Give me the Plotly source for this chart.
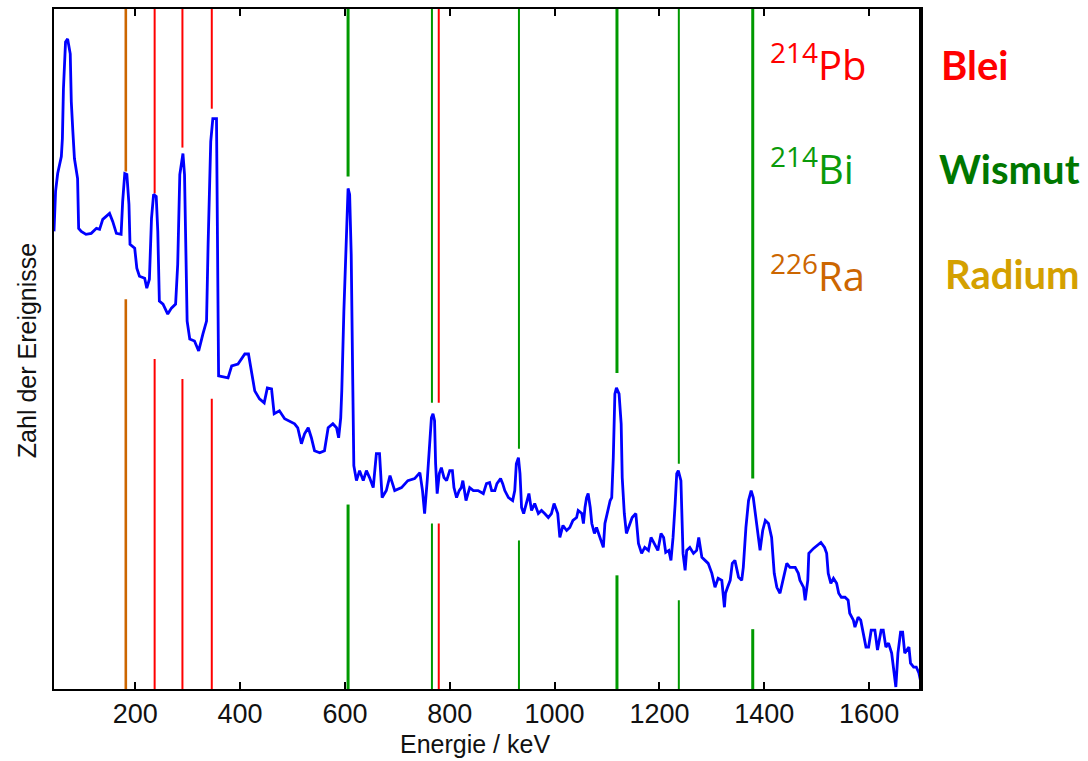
import plotly.graph_objects as go

# ---------------- data ----------------
energy_keV = [45, 48, 52, 59, 61, 63, 67, 71, 76, 78, 81, 84, 90, 92, 97, 106, 116, 126, 132, 138,
              151, 157, 164, 173, 176, 180, 184, 188, 190, 199, 203, 208, 218, 222, 227, 231, 235, 240, 243, 246,
              253, 262, 269, 277, 281, 285, 291, 294, 299, 304, 313, 321, 329, 336, 339, 344, 348, 355, 357, 359,
              377, 384, 396, 409, 416, 423, 428, 437, 446, 452, 460, 465, 475, 485, 504, 510, 517, 523, 530, 536,
              542, 552, 561, 568, 577, 584, 588, 592, 594, 598, 603, 606, 609, 612, 615, 617, 622, 628, 635, 641,
              647, 654, 660, 666, 671, 679, 686, 695, 708, 720, 733, 743, 748, 752, 757, 761, 765, 768, 771, 773,
              776, 780, 784, 789, 794, 800, 805, 808, 813, 818, 822, 825, 831, 838, 845, 854, 864, 870, 876, 880,
              886, 890, 897, 901, 905, 912, 920, 924, 927, 931, 934, 937, 941, 946, 951, 956, 962, 969, 975, 981,
              988, 994, 999, 1006, 1010, 1016, 1023, 1029, 1035, 1042, 1045, 1052, 1055, 1058, 1061, 1064, 1068, 1071, 1076, 1080,
              1087, 1093, 1096, 1102, 1106, 1109, 1112, 1115, 1118, 1123, 1127, 1129, 1133, 1137, 1144, 1148, 1155, 1160, 1166, 1172,
              1179, 1184, 1190, 1197, 1203, 1208, 1212, 1218, 1222, 1226, 1230, 1233, 1236, 1241, 1245, 1249, 1252, 1258, 1265, 1271,
              1275, 1281, 1287, 1293, 1300, 1306, 1312, 1319, 1324, 1326, 1330, 1335, 1339, 1344, 1351, 1357, 1360, 1365, 1370, 1375,
              1379, 1383, 1386, 1392, 1397, 1402, 1408, 1414, 1419, 1424, 1430, 1436, 1443, 1449, 1459, 1465, 1468, 1475, 1478, 1483,
              1485, 1494, 1502, 1508, 1515, 1519, 1522, 1527, 1532, 1538, 1542, 1547, 1554, 1560, 1563, 1570, 1573, 1579, 1584, 1589,
              1594, 1599, 1604, 1611, 1616, 1623, 1627, 1632, 1637, 1643, 1648, 1651, 1655, 1660, 1664, 1668, 1676, 1679, 1685, 1690,
              1695, 1699]
counts = [459, 499, 517, 534, 552, 602, 649, 652, 637, 589, 559, 532, 512, 462, 459, 456, 457, 462, 461, 471,
          477, 469, 457, 456, 489, 517, 516, 486, 446, 442, 422, 414, 412, 402, 411, 472, 496, 494, 459, 389,
          386, 376, 382, 386, 426, 516, 537, 516, 369, 351, 349, 339, 356, 369, 446, 549, 572, 572, 442, 314,
          312, 324, 326, 336, 336, 312, 299, 291, 287, 302, 301, 276, 279, 271, 266, 262, 246, 256, 262, 252,
          239, 237, 239, 262, 266, 262, 252, 272, 299, 379, 472, 502, 496, 436, 306, 224, 209, 219, 209, 219,
          212, 202, 236, 236, 192, 199, 214, 199, 202, 209, 211, 217, 199, 176, 209, 239, 272, 276, 269, 226,
          196, 216, 222, 212, 209, 219, 219, 202, 192, 199, 202, 209, 189, 202, 199, 199, 196, 206, 207, 199,
          199, 206, 211, 206, 199, 192, 189, 199, 226, 232, 216, 182, 176, 186, 196, 179, 186, 176, 179, 176,
          172, 176, 186, 176, 152, 164, 159, 162, 169, 172, 179, 176, 166, 182, 192, 196, 182, 166, 156, 162,
          152, 142, 166, 182, 189, 192, 232, 296, 302, 296, 266, 212, 176, 156, 166, 172, 176, 146, 136, 142,
          139, 152, 146, 139, 156, 152, 137, 139, 129, 152, 186, 216, 219, 209, 136, 119, 139, 142, 136, 139,
          152, 132, 129, 126, 116, 102, 111, 109, 82, 96, 102, 109, 126, 129, 112, 109, 122, 162, 189, 199,
          192, 176, 159, 139, 159, 169, 166, 152, 116, 102, 96, 109, 126, 122, 122, 116, 109, 102, 89, 109,
          136, 141, 144, 147, 142, 136, 116, 106, 111, 106, 96, 92, 92, 89, 76, 69, 62, 72, 69, 56,
          42, 42, 59, 59, 39, 59, 59, 42, 46, 36, 12, 2, 36, 57, 57, 36, 42, 26, 22, 22,
          16, 6]

# marker lines: energy, isotope, gap (upper end, lower end) in count units
line_energy = [182, 237, 290, 346, 779, 606, 766, 932, 1119, 1237, 1378]
line_isotope = ["Ra", "Pb", "Pb", "Pb", "Pb", "Bi", "Bi", "Bi", "Bi", "Bi", "Bi"]
gap_upper = [519, 497, 543, 582, 287, 514, 287, 241, 317, 226, 211]
gap_lower = [391, 331, 311, 291, 166, 185, 166, 149, 114, 89, 60]
line_strong = [True, False, False, False, False, True, False, False, True, False, True]

x_ticks = [200, 400, 600, 800, 1000, 1200, 1400, 1600]
x_range = [45, 1699]
y_top = 682

iso_color = {"Ra": "#CC6600", "Pb": "#FF0000", "Bi": "#009900"}

fig = go.Figure()

for e, iso, gu, gl, strong in zip(line_energy, line_isotope, gap_upper, gap_lower, line_strong):
    w = 2.0
    if iso == "Ra":
        w = 2.6
    elif strong:
        w = 3.0
    fig.add_trace(go.Scatter(
        x=[e, e, None, e, e], y=[y_top, gu, None, gl, 0],
        mode="lines", line=dict(color=iso_color[iso], width=w),
        hoverinfo="skip", showlegend=False))

fig.add_trace(go.Scatter(
    x=energy_keV, y=counts, mode="lines",
    line=dict(color="#0000FF", width=2.8), showlegend=False))

# labels
labels_left = [("<sup>214</sup>Pb", "#FF0000", 0.922),
               ("<sup>214</sup>Bi", "#0A9A0A", 0.768),
               ("<sup>226</sup>Ra", "#CC6600", 0.611)]
for txt, col, yy in labels_left:
    fig.add_annotation(xref="paper", yref="paper", x=0.8235, y=yy, xanchor="left", yanchor="middle",
                       text=txt, showarrow=False,
                       font=dict(family="Open Sans", size=40, color=col))

labels_right = [("Blei", "#FF0000", 1.021, 0.918),
                ("Wismut", "#007700", 1.0185, 0.765),
                ("Radium", "#D4A000", 1.0255, 0.611)]
for txt, col, xx, yy in labels_right:
    fig.add_annotation(xref="paper", yref="paper", x=xx, y=yy, xanchor="left", yanchor="middle",
                       text="<b>" + txt + "</b>", showarrow=False,
                       font=dict(family="Lato", size=40, color=col))

# axis titles
fig.add_annotation(xref="paper", yref="paper", x=0.4856, y=-0.1045, xanchor="center", yanchor="bottom",
                   text="Energie / keV", showarrow=False,
                   font=dict(family="Liberation Sans", size=25, color="#111111"))
fig.add_annotation(xref="paper", yref="paper", x=-0.031, y=0.497, xanchor="center", yanchor="middle",
                   text="Zahl der Ereignisse", textangle=-90, showarrow=False,
                   font=dict(family="Liberation Sans", size=25, color="#111111"))

# thick right border
fig.add_shape(type="line", xref="paper", yref="paper", x0=1, x1=1, y0=0, y1=1,
              line=dict(color="black", width=4))

fig.update_layout(
    width=1088, height=761,
    margin=dict(l=54, r=167, t=7, b=72),
    paper_bgcolor="white", plot_bgcolor="white",
    xaxis=dict(range=x_range, tickvals=x_ticks, ticks="inside", ticklen=7, tickwidth=2,
               tickcolor="black", showline=True, linecolor="black", linewidth=2, mirror="ticks",
               showgrid=False, zeroline=False,
               tickfont=dict(family="Liberation Sans", size=27, color="#111111")),
    yaxis=dict(range=[0, y_top], showticklabels=False, ticks="", showline=True, linecolor="black",
               linewidth=2, mirror=True, showgrid=False, zeroline=False),
)

fig.write_html("out.html", config={"displayModeBar": False},
               post_script="document.body.style.margin='0';")
